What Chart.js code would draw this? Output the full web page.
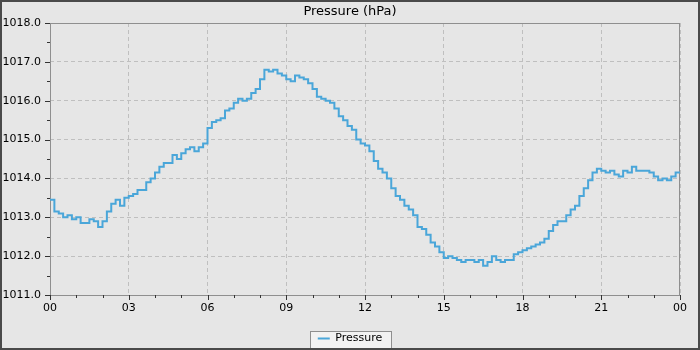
<!DOCTYPE html>
<html>
<head>
<meta charset="utf-8">
<title>Pressure</title>
<script src="https://cdn.jsdelivr.net/npm/chart.js@4"></script>
<style>
    html, body { margin: 0; padding: 0; background: #e6e6e6; }
    #wrap { width: 700px; height: 350px; }
</style>
</head>
<body>
<div id="wrap"><canvas id="pressureChart" width="700" height="350"></canvas></div>
<script>
// Amostras a cada 10 minutos, de 00:00 até 24:00
const sampleMinutes = 10;
const hourLabels = ['00', '03', '06', '09', '12', '15', '18', '21', '00'];
const yMin = 1011;
const yMax = 1018;

const pressure = [
    1013.45, 1013.15, 1013.10, 1013.00, 1013.05, 1012.95, // 00h
    1013.00, 1012.85, 1012.85, 1012.95, 1012.90, 1012.75, // 01h
    1012.90, 1013.15, 1013.35, 1013.45, 1013.30, 1013.50, // 02h
    1013.55, 1013.60, 1013.70, 1013.70, 1013.90, 1014.00, // 03h
    1014.15, 1014.30, 1014.40, 1014.40, 1014.60, 1014.50, // 04h
    1014.65, 1014.75, 1014.80, 1014.70, 1014.80, 1014.90, // 05h
    1015.30, 1015.45, 1015.50, 1015.55, 1015.75, 1015.80, // 06h
    1015.95, 1016.05, 1016.00, 1016.05, 1016.20, 1016.30, // 07h
    1016.55, 1016.80, 1016.75, 1016.80, 1016.70, 1016.65, // 08h
    1016.55, 1016.50, 1016.65, 1016.60, 1016.55, 1016.45, // 09h
    1016.30, 1016.10, 1016.05, 1016.00, 1015.95, 1015.80, // 10h
    1015.60, 1015.50, 1015.35, 1015.25, 1015.00, 1014.90, // 11h
    1014.85, 1014.70, 1014.45, 1014.25, 1014.15, 1014.00, // 12h
    1013.75, 1013.55, 1013.45, 1013.30, 1013.20, 1013.05, // 13h
    1012.75, 1012.70, 1012.55, 1012.35, 1012.25, 1012.10, // 14h
    1011.95, 1012.00, 1011.95, 1011.90, 1011.85, 1011.90, // 15h
    1011.90, 1011.85, 1011.90, 1011.75, 1011.85, 1012.00, // 16h
    1011.90, 1011.85, 1011.90, 1011.90, 1012.05, 1012.10, // 17h
    1012.15, 1012.20, 1012.25, 1012.30, 1012.35, 1012.45, // 18h
    1012.65, 1012.80, 1012.90, 1012.90, 1013.05, 1013.20, // 19h
    1013.30, 1013.55, 1013.75, 1013.95, 1014.15, 1014.25, // 20h
    1014.20, 1014.15, 1014.20, 1014.10, 1014.05, 1014.20, // 21h
    1014.15, 1014.30, 1014.20, 1014.20, 1014.20, 1014.15, // 22h
    1014.05, 1013.95, 1014.00, 1013.95, 1014.05, 1014.15, // 23h
    1014.15
];

const points = pressure.map((v, i) => ({ x: i * sampleMinutes, y: v }));

const LINE_COLOR = '#4aa6d9';
const GRID_COLOR = '#bfbfbf';
const FRAME_COLOR = '#8f8f8f';
const TICK_COLOR = '#333333';

// Fundo, caixa da legenda e moldura externa
const backgroundPlugin = {
    id: 'background',
    beforeDraw(chart) {
        const ctx = chart.ctx;
        ctx.save();
        ctx.fillStyle = '#e6e6e6';
        ctx.fillRect(0, 0, chart.width, chart.height);

        const hit = chart.legend && chart.legend.legendHitBoxes && chart.legend.legendHitBoxes[0];
        if (hit) {
            const x = Math.round(hit.left - 8) + 0.5;
            const y = Math.round(hit.top - 2) + 0.5;
            const w = Math.round(hit.width + 17);
            const h = 18;
            ctx.fillStyle = '#f2f2f2';
            ctx.fillRect(x, y, w, h);
            ctx.strokeStyle = '#8f8f8f';
            ctx.lineWidth = 1;
            ctx.strokeRect(x, y, w, h);
        }
        ctx.restore();
    },
    afterDraw(chart) {
        const ctx = chart.ctx;
        ctx.save();
        ctx.strokeStyle = '#4a4a4a';
        ctx.lineWidth = 2;
        ctx.strokeRect(1, 1, chart.width - 2, chart.height - 2);
        ctx.restore();
    }
};

// Moldura da área do gráfico e marcas dos eixos (maiores e menores)
const framePlugin = {
    id: 'frameTicks',
    beforeDatasetsDraw(chart) {
        const { ctx, chartArea: a, scales } = chart;
        ctx.save();
        ctx.strokeStyle = FRAME_COLOR;
        ctx.lineWidth = 1;
        ctx.strokeRect(a.left + 0.5, a.top + 0.5, a.right - a.left - 1, a.bottom - a.top);

        ctx.strokeStyle = TICK_COLOR;
        ctx.beginPath();
        scales.y.ticks.forEach(t => {
            const py = Math.round(scales.y.getPixelForValue(t.value)) + 0.5;
            const len = Number.isInteger(t.value) ? 5 : 3;
            ctx.moveTo(a.left - len, py);
            ctx.lineTo(a.left, py);
        });
        scales.x.ticks.forEach(t => {
            const px = Math.round(scales.x.getPixelForValue(t.value)) + 0.5;
            const len = t.value % 180 === 0 ? 5 : 3;
            ctx.moveTo(px, a.bottom);
            ctx.lineTo(px, a.bottom + len);
        });
        ctx.stroke();
        ctx.restore();
    }
};

const ctx = document.getElementById('pressureChart');

new Chart(ctx, {
    type: 'line',
    data: {
        datasets: [{
            label: 'Pressure',
            data: points,
            borderColor: LINE_COLOR,
            backgroundColor: LINE_COLOR,
            borderWidth: 2,
            pointRadius: 0,
            stepped: 'before',
            fill: false
        }]
    },
    options: {
        responsive: false,
        animation: false,
        layout: {
            padding: { top: 0, left: 0, right: 0, bottom: -4 }
        },
        plugins: {
            title: {
                display: true,
                text: 'Pressure (hPa)',
                color: '#000',
                font: { family: 'DejaVu Sans', size: 13, weight: 'normal', lineHeight: 1.2 },
                padding: { top: 4, bottom: 3.4 }
            },
            legend: {
                position: 'bottom',
                labels: {
                    color: '#000',
                    font: { family: 'DejaVu Sans', size: 11 },
                    usePointStyle: true,
                    pointStyle: 'line',
                    pointStyleWidth: 12,
                    padding: 2
                }
            },
            tooltip: { enabled: false }
        },
        scales: {
            x: {
                type: 'linear',
                min: 0,
                max: 1440,
                afterFit(scale) {
                    scale.height = scale.chart.height + 4 - 295 - scale.chart.legend.height;
                },
                ticks: {
                    stepSize: 60,
                    autoSkip: false,
                    maxRotation: 0,
                    padding: 7,
                    color: '#000',
                    font: { family: 'DejaVu Sans', size: 11 },
                    callback: (value) => value % 180 === 0 ? hourLabels[value / 180] : ''
                },
                grid: {
                    drawTicks: false,
                    color: (c) => c.tick && c.tick.value % 180 === 0 ? GRID_COLOR : 'rgba(0,0,0,0)'
                },
                border: { display: false, dash: [4, 3] }
            },
            y: {
                min: yMin,
                max: yMax,
                afterFit(scale) {
                    scale.width = 50;
                },
                ticks: {
                    stepSize: 0.5,
                    autoSkip: false,
                    padding: 9,
                    color: '#000',
                    font: { family: 'DejaVu Sans', size: 11 },
                    callback: (value) => Number.isInteger(value) ? value.toFixed(1) : ''
                },
                grid: {
                    drawTicks: false,
                    color: (c) => c.tick && Number.isInteger(c.tick.value) ? GRID_COLOR : 'rgba(0,0,0,0)'
                },
                border: { display: false, dash: [4, 3] }
            },
            // eixo vazio à direita, só para reservar a margem de 20px
            yRight: {
                position: 'right',
                min: yMin,
                max: yMax,
                afterFit(scale) {
                    scale.width = 20;
                },
                ticks: { display: false },
                grid: { display: false, drawTicks: false },
                border: { display: false }
            }
        }
    },
    plugins: [backgroundPlugin, framePlugin]
});
</script>
</body>
</html>
